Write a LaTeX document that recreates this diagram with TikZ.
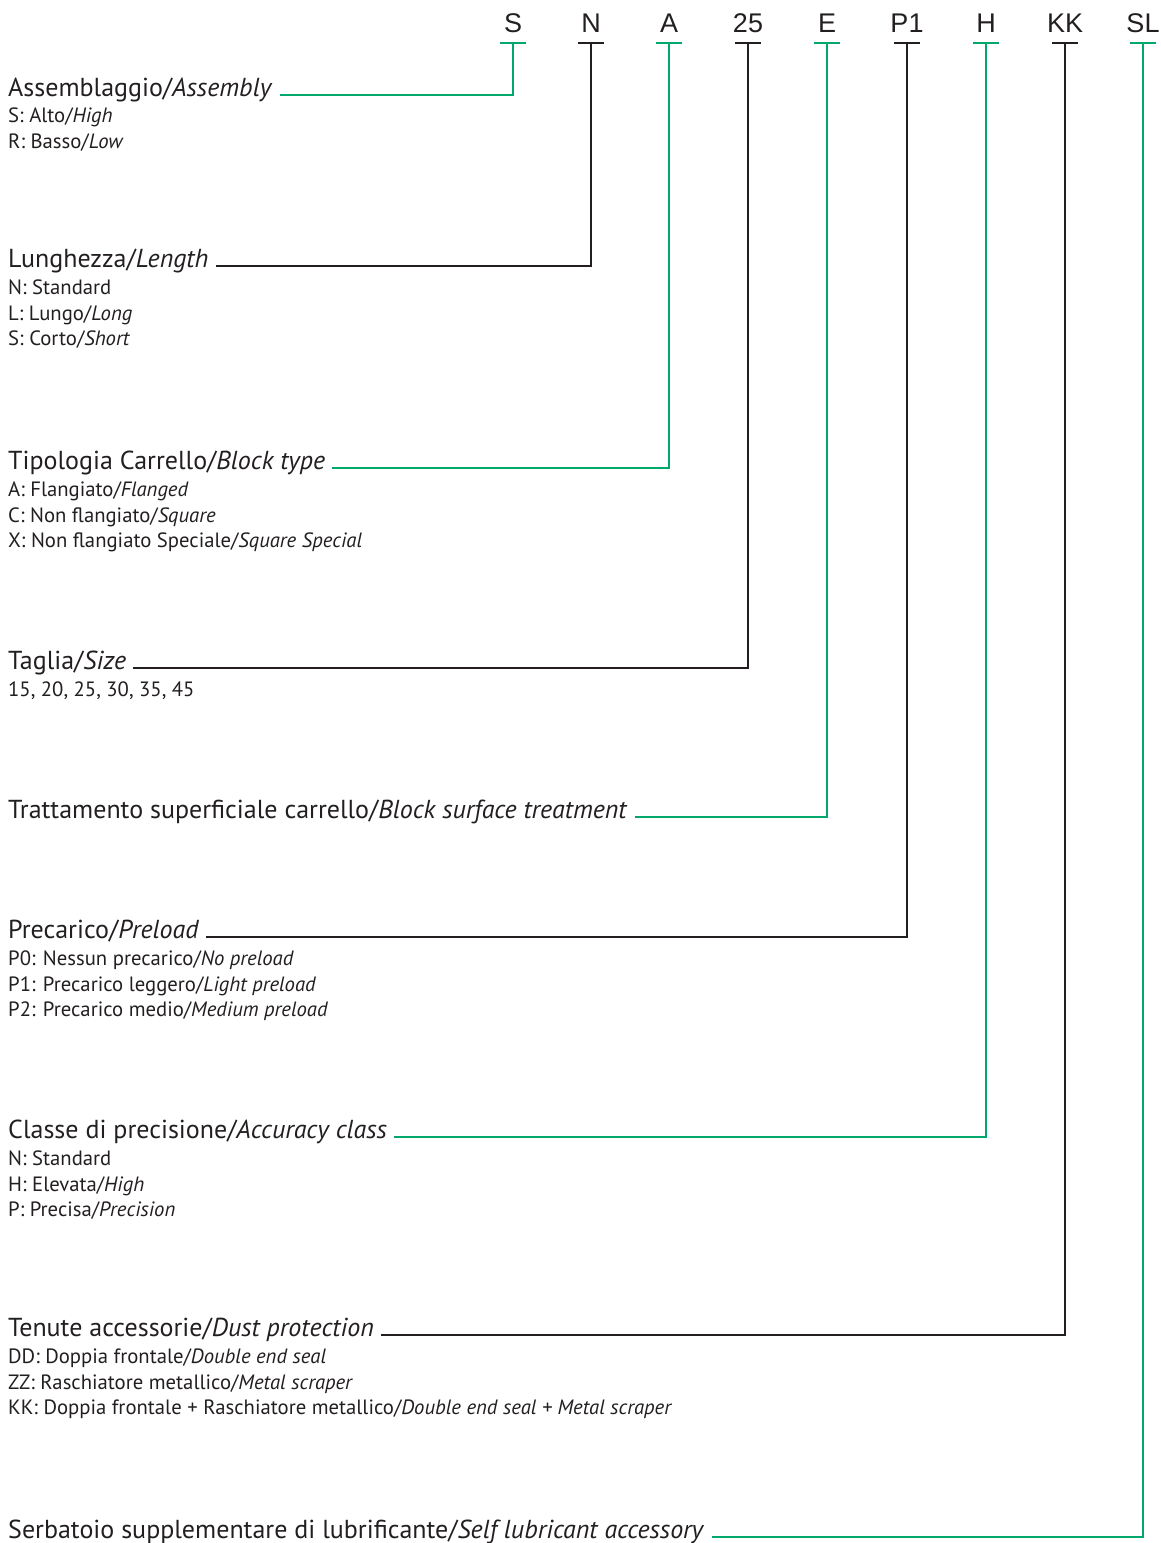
\documentclass[tikz,border=0pt]{standalone}
\usepackage{fontspec}
\setmainfont{PT Sans}
\newfontfamily\codefont{Liberation Sans}
\usetikzlibrary{positioning}
\definecolor{codegreen}{RGB}{0,168,107}
\definecolor{ink}{RGB}{35,31,32}

\begin{document}
\begin{tikzpicture}[x=1pt,y=-1pt,
    code/.style={font=\codefont\fontsize{27}{27}\selectfont, text=ink, anchor=south, inner xsep=0pt, inner ysep=10pt},
    title/.style={font=\fontsize{26}{30}\selectfont, text=ink, anchor=base west, inner sep=0pt},
    desc/.style={font=\fontsize{20.7}{25.5}\selectfont, text=ink, align=left, inner sep=0pt},
    gline/.style={draw=codegreen, line width=1.6pt},
    kline/.style={draw=ink, line width=1.6pt}]
    \useasboundingbox (0,0) rectangle (1161,1543);

    % Code letters on top
    \node[code] (cS)  at (513,43)  {S};
    \node[code] (cN)  at (591,43)  {N};
    \node[code] (cA)  at (669,43)  {A};
    \node[code] (c25) at (748,43)  {25};
    \node[code] (cE)  at (827,43)  {E};
    \node[code] (cP)  at (907,43)  {P1};
    \node[code] (cH)  at (986,43)  {H};
    \node[code] (cKK) at (1065,43) {KK};
    \node[code] (cSL) at (1143,43) {SL};

    % Titles
    \node[title] (tS)  at (8,96)   {Assemblaggio/\textit{Assembly}};
    \node[title] (tN)  at (8,267)  {Lunghezza/\textit{Length}};
    \node[title] (tA)  at (8,469)  {Tipologia Carrello/\textit{Block type}};
    \node[title] (t25) at (8,669)  {Taglia/\textit{Size}};
    \node[title] (tE)  at (8,818)  {Trattamento superficiale carrello/\textit{Block surface treatment}};
    \node[title] (tP)  at (8,938)  {Precarico/\textit{Preload}};
    \node[title] (tH)  at (8,1138) {Classe di precisione/\textit{Accuracy class}};
    \node[title] (tKK) at (8,1336) {Tenute accessorie/\textit{Dust protection}};
    \node[title] (tSL) at (8,1538) {Serbatoio supplementare di lubrificante/\textit{Self lubricant accessory}};

    % Options under the titles
    \node[desc, below=12pt of tS.base west, anchor=north west] (dS)
        {S: Alto/\textit{High}\\R: Basso/\textit{Low}};
    \node[desc, below=13pt of tN.base west, anchor=north west] (dN)
        {N: Standard\\L: Lungo/\textit{Long}\\S: Corto/\textit{Short}};
    \node[desc, below=13pt of tA.base west, anchor=north west] (dA)
        {A: Flangiato/\textit{Flanged}\\C: Non flangiato/\textit{Square}\\X: Non flangiato Speciale/\textit{Square Special}};
    \node[desc, below=13pt of t25.base west, anchor=north west] (d25)
        {15, 20, 25, 30, 35, 45};
    \node[desc, below=13pt of tP.base west, anchor=north west] (dP)
        {P0: Nessun precarico/\textit{No preload}\\P1: Precarico leggero/\textit{Light preload}\\P2: Precarico medio/\textit{Medium preload}};
    \node[desc, below=13pt of tH.base west, anchor=north west] (dH)
        {N: Standard\\H: Elevata/\textit{High}\\P: Precisa/\textit{Precision}};
    \node[desc, below=13pt of tKK.base west, anchor=north west] (dKK)
        {DD: Doppia frontale/\textit{Double end seal}\\ZZ: Raschiatore metallico/\textit{Metal scraper}\\KK: Doppia frontale + Raschiatore metallico/\textit{Double end seal + Metal scraper}};

    % Tick bars under the letters
    \draw[gline] ([xshift=-13pt]cS.south)  -- ([xshift=13pt]cS.south);
    \draw[kline] ([xshift=-13pt]cN.south)  -- ([xshift=13pt]cN.south);
    \draw[gline] ([xshift=-13pt]cA.south)  -- ([xshift=13pt]cA.south);
    \draw[kline] ([xshift=-13pt]c25.south) -- ([xshift=13pt]c25.south);
    \draw[gline] ([xshift=-13pt]cE.south)  -- ([xshift=13pt]cE.south);
    \draw[kline] ([xshift=-13pt]cP.south)  -- ([xshift=13pt]cP.south);
    \draw[gline] ([xshift=-13pt]cH.south)  -- ([xshift=13pt]cH.south);
    \draw[kline] ([xshift=-13pt]cKK.south) -- ([xshift=13pt]cKK.south);
    \draw[gline] ([xshift=-13pt]cSL.south) -- ([xshift=13pt]cSL.south);

    % Leader lines from letters to titles
    \draw[gline] (cS.south)  |- ([xshift=7pt,yshift=1pt]tS.base east);
    \draw[kline] (cN.south)  |- ([xshift=7pt,yshift=1pt]tN.base east);
    \draw[gline] (cA.south)  |- ([xshift=7pt,yshift=1pt]tA.base east);
    \draw[kline] (c25.south) |- ([xshift=7pt,yshift=1pt]t25.base east);
    \draw[gline] (cE.south)  |- ([xshift=7pt,yshift=1pt]tE.base east);
    \draw[kline] (cP.south)  |- ([xshift=7pt,yshift=1pt]tP.base east);
    \draw[gline] (cH.south)  |- ([xshift=7pt,yshift=1pt]tH.base east);
    \draw[kline] (cKK.south) |- ([xshift=7pt,yshift=1pt]tKK.base east);
    \draw[gline] (cSL.south) |- ([xshift=7pt,yshift=1pt]tSL.base east);
\end{tikzpicture}
\end{document}
